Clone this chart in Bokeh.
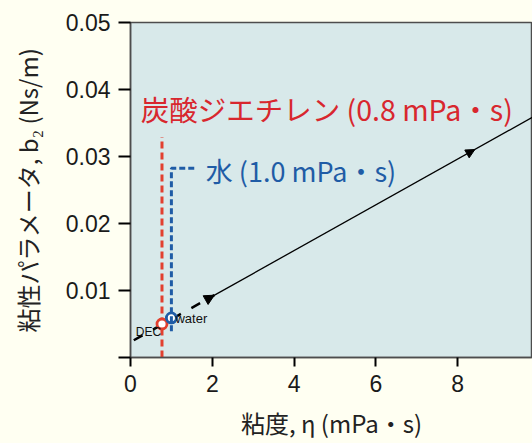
from bokeh.plotting import figure
from bokeh.models import Range1d, FixedTicker, Label, Arrow, NormalHead
from bokeh.embed import file_html
from bokeh.resources import INLINE

# ---- data ----
x_ticks = [0, 2, 4, 6, 8]
y_ticks = [0, 0.01, 0.02, 0.03, 0.04, 0.05]
y_tick_labels = ["", "0.01", "0.02", "0.03", "0.04", "0.05"]

dash_x = [0.08, 2.05]
dash_y = [0.00257, 0.00930]
solid_x = [2.0, 9.9]
solid_y = [0.00913, 0.0361]

arrow_x0 = [1.90, 8.30]
arrow_y0 = [0.00878, 0.03063]
arrow_x1 = [2.05, 8.42]
arrow_y1 = [0.00930, 0.03104]

dec_eta = [0.77]
dec_b2 = [0.0050]
water_eta = [1.0]
water_b2 = [0.0059]

dec_line_x = [0.77, 0.77]
dec_line_y = [0.0, 0.0329]
water_line_x = [1.0, 1.0, 1.6]
water_line_y = [0.0039, 0.02825, 0.02825]

label_dec = "炭酸ジエチレン (0.8 mPa・s)"
label_water = "水 (1.0 mPa・s)"
x_title = "粘度, η (mPa・s)"
y_title = "粘性パラメータ, b₂ (Ns/m)"

RED = "#D8272E"
RED_LINE = "#E2402F"
BLUE = "#1F5CA6"
BG = "#FFFFF2"
PLOT_BG = "#D8E9EA"
CJK = "Noto Sans CJK JP"

p = figure(width=532, height=443, output_backend="svg", toolbar_location=None,
           x_range=Range1d(0, 9.83), y_range=Range1d(0, 0.05),
           min_border_left=130, min_border_right=0, min_border_top=22,
           min_border_bottom=86)
p.background_fill_color = PLOT_BG
p.border_fill_color = BG
p.outline_line_color = "#4d4d4d"
p.outline_line_width = 1.5
p.grid.visible = False

for ax in (p.xaxis[0], p.yaxis[0]):
    ax.axis_line_color = "#4d4d4d"
    ax.axis_line_width = 1.5
    ax.major_tick_line_color = "black"
    ax.major_tick_line_width = 2
    ax.minor_tick_line_color = None
    ax.major_tick_in = 0
    ax.major_label_text_font = "Liberation Sans"
    ax.major_label_text_font_size = "23px"
    ax.major_label_text_color = "#1a1a1a"
    ax.axis_label_text_font = CJK
    ax.axis_label_text_font_size = "24px"
    ax.axis_label_text_font_style = "normal"
    ax.axis_label_text_color = "#222222"

p.xaxis.ticker = FixedTicker(ticks=x_ticks)
p.yaxis.ticker = FixedTicker(ticks=y_ticks)
p.yaxis.major_label_overrides = {t: s for t, s in zip(y_ticks, y_tick_labels)}
p.xaxis.major_tick_out = 9
p.yaxis.major_tick_out = 12
p.xaxis.major_label_standoff = 8
p.yaxis.major_label_standoff = 8
p.xaxis.axis_label = x_title
p.yaxis.axis_label = y_title
p.xaxis.axis_label_standoff = 10
p.yaxis.axis_label_standoff = 18

# main line
p.line(dash_x, dash_y, line_color="black", line_width=2.5, line_dash="10 12")
p.line(solid_x, solid_y, line_color="black", line_width=1.3)
for i, (xs, ys, xe, ye) in enumerate(zip(arrow_x0, arrow_y0, arrow_x1, arrow_y1)):
    p.add_layout(Arrow(x_start=xs, y_start=ys, x_end=xe, y_end=ye, line_alpha=0,
                       end=NormalHead(size=10 if i == 0 else 9, fill_color="black",
                                      line_color="black", line_width=1)))

# reference lines
p.line(dec_line_x, dec_line_y, line_color=RED_LINE, line_width=3, line_dash="7 4")
p.scatter(dec_eta, dec_b2, size=10, marker="circle", fill_color="white",
          line_color=RED_LINE, line_width=2.8)
p.scatter(water_eta, water_b2, size=10, marker="circle", fill_color="white",
          line_color=BLUE, line_width=2.8)
p.line(water_line_x, water_line_y, line_color=BLUE, line_width=3, line_dash="6 3")

p.add_layout(Label(x=0.25, y=0.0372, text=label_dec, text_color=RED,
                   text_font=CJK, text_font_size="28.5px",
                   text_baseline="middle", text_align="left"))
p.add_layout(Label(x=1.84, y=0.02795, text=label_water, text_color=BLUE,
                   text_font=CJK, text_font_size="27px",
                   text_baseline="middle", text_align="left"))
p.add_layout(Label(x=0.13, y=0.00374, text="DEC", text_color="#111111",
                   text_font="Liberation Sans", text_font_size="12px",
                   text_baseline="middle", text_align="left"))
p.add_layout(Label(x=1.10, y=0.00575, text="water", text_color="#111111",
                   text_font="Liberation Sans", text_font_size="13px",
                   text_baseline="middle", text_align="left"))

html = file_html(p, INLINE)
html = html.replace("<head>", "<head><style>html,body{background:%s;}</style>" % BG, 1)
open("out.html", "w").write(html)
